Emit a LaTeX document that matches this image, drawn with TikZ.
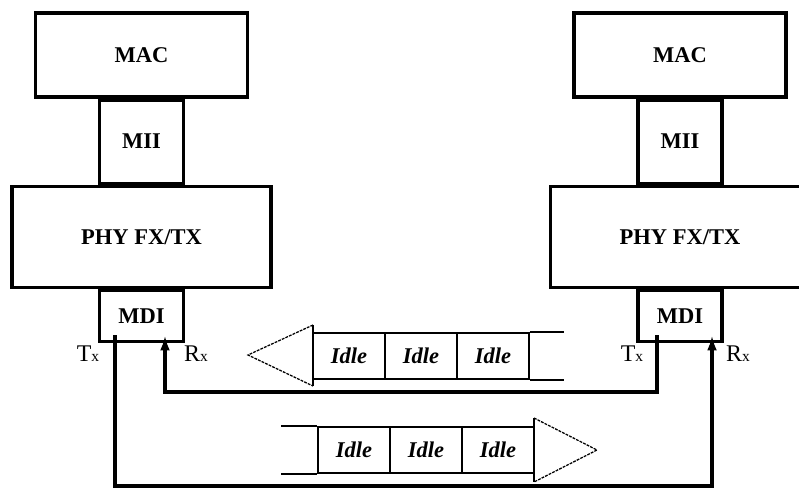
\documentclass[tikz,border=0pt]{standalone}
\usepackage{fontspec}
\setmainfont{Liberation Serif}
\usetikzlibrary{arrows.meta, positioning}

\tikzset{
  unit/.style={draw, line width=2.2pt, inner sep=0pt,
    font=\fontsize{16}{18}\selectfont\bfseries},
  mac/.style={unit, minimum width=5.3cm, minimum height=2.1cm},
  mii/.style={unit, minimum width=2.1cm, minimum height=2.075cm},
  phy/.style={unit, minimum width=6.475cm, minimum height=2.525cm},
  mdi/.style={unit, minimum width=2.1cm, minimum height=1.275cm},
  cell/.style={draw, line width=1.1pt, inner sep=0pt,
    minimum width=1.8cm, minimum height=1.15cm,
    font=\fontsize{16}{18}\selectfont\bfseries\itshape},
  cellline/.style={line width=1.1pt},
  headline/.style={line width=0.9pt, dash pattern=on 2pt off 0.8pt},
  tailline/.style={line width=1.8pt},
  link/.style={draw, line width=2.2pt},
  port/.style={font=\fontsize{17}{19}\selectfont},
}
\newcommand\sx{{\fontsize{11}{11}\selectfont x}}

\begin{document}
\begin{tikzpicture}[x=0.025cm, y=-0.025cm]
    \clip (0,0) rectangle (799,488);
    \fill[white] (0,0) rectangle (799,488);

    % left station
    \node[mac] (macL) at (141.5,55) {MAC};
    \node[mii, below=0pt of macL] (miiL) {MII};
    \node[phy, below=0pt of miiL] (phyL) {PHY FX/TX};
    \node[mdi, below=0pt of phyL] (mdiL) {MDI};

    % right station
    \node[mac] (macR) at (680,55) {MAC};
    \node[mii, below=0pt of macR] (miiR) {MII};
    \node[phy, below=0pt of miiR] (phyR) {PHY FX/TX};
    \node[mdi, below=0pt of phyR] (mdiR) {MDI};

    % ports and lines
    \coordinate (txL) at (115,335);
    \coordinate (rxL) at (165,335);
    \coordinate (txR) at (657,335);
    \coordinate (rxR) at (712,335);
    \coordinate (busA) at (0,392);
    \coordinate (busB) at (0,486);

    \draw[link, -{Latex[length=11pt,width=7pt]}] (txR) |- (busA -| rxL) -- (rxL);
    \draw[link, -{Latex[length=11pt,width=7pt]}] (txL) |- (busB -| rxR) -- (rxR);

    \node[port] (txLl) at (88,354) {T\sx};
    \node[port] (rxLl) at (196,354) {R\sx};
    \node[port] (txRl) at (632,354) {T\sx};
    \node[port] (rxRl) at (738,354) {R\sx};

    % upper frame, right to left
    \foreach \n/\x in {1/349, 2/421, 3/493}
      \node[cell] (a\n) at (\x,356) {Idle};
    \draw[cellline] (313,325) -- (313,386);
    \draw[headline] (313,325) -- (248,355) -- (313,386);
    \draw[tailline] (a3.north east) -- ++(34,0);
    \draw[tailline] (a3.south east) -- ++(34,0);

    % lower frame, left to right
    \foreach \n/\x in {1/354, 2/426, 3/498}
      \node[cell] (b\n) at (\x,450) {Idle};
    \draw[tailline] (b1.north west) -- ++(-36,0);
    \draw[tailline] (b1.south west) -- ++(-36,0);
    \draw[cellline] (534,418) -- (534,482);
    \draw[headline] (534,418) -- (597,450) -- (534,482);
\end{tikzpicture}
\end{document}
